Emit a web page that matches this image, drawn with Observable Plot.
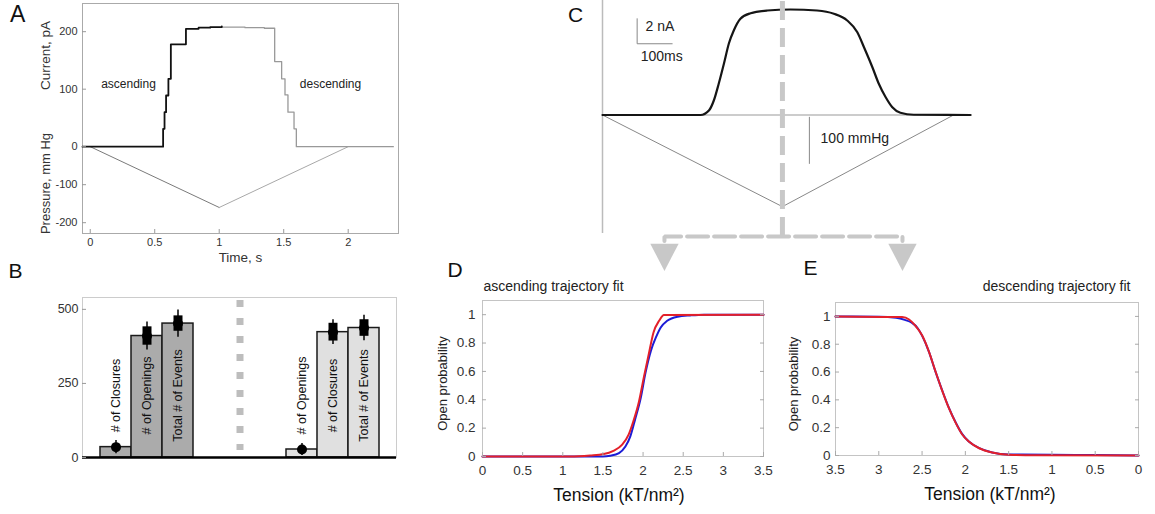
<!DOCTYPE html>
<html>
<head>
<meta charset="utf-8">
<script src="https://cdn.jsdelivr.net/npm/d3@7"></script>
<script src="https://cdn.jsdelivr.net/npm/@observablehq/plot@0.6"></script>
<style>
  html, body { margin: 0; padding: 0; background: #fff; }
  #fig { position: relative; width: 1155px; height: 514px; overflow: hidden;
         font-family: "Liberation Sans", Arial, Helvetica, sans-serif; color: #222; }
  #fig svg { position: absolute; overflow: visible; }
  .letter { position: absolute; line-height: 1; color: #111; }
</style>
</head>
<body>
<div id="fig"></div>
<script>
const FONT = '"Liberation Sans", Arial, Helvetica, sans-serif';

// ---------- A: macroscopic current steps during a triangular pressure ramp ----------
const ascTime     = [-0.06, 0.565, 0.576, 0.588, 0.606, 0.625, 0.742, 0.84, 0.93, 1.02];
const ascCurrent  = [0, 31, 60, 89, 118, 178, 205, 207, 208, 209];
const descTime    = [1.02, 1.2, 1.35, 1.43, 1.484, 1.51, 1.533, 1.58, 1.598, 2.35];
const descCurrent = [208, 207, 206, 148, 118, 90, 60, 31, 0, 0];
const rampTime     = [0, 1, 2];
const rampPressure = [0, -160, 0];          // mm Hg
const timeTicks     = [0, 0.5, 1, 1.5, 2];
const currentTicks  = [0, 100, 200];
const pressureTicks = [-100, -200];

// ---------- B: event counts on each branch of the ramp ----------
const ascEvents  = ["# of Closures", "# of Openings", "Total # of Events"];
const ascCounts  = [35, 410, 452];
const ascSD      = [22, 47, 46];
const ascSE      = [0, 31, 26];
const descEvents = ["# of Openings", "# of Closures", "Total # of Events"];
const descCounts = [27, 423, 437];
const descSD     = [20, 42, 43];
const descSE     = [0, 30, 28];
const countTicks = [0, 250, 500];

// ---------- C: simulated population current and pressure ramp ----------
const traceMs = [0, 280, 304, 318, 332, 347, 361, 375, 394, 423, 471, 537, 613, 661, 699, 728, 747, 771, 789, 809, 828, 851, 889, 1051];
const traceNa = [0, 0, 0.36, 1.16, 2.5, 4.12, 5.72, 6.76, 7.7, 8.14, 8.36, 8.44, 8.36, 8.1, 7.56, 6.62, 5.42, 3.82, 2.52, 1.42, 0.62, 0.18, 0.02, 0];
const pressMs    = [0, 514, 1003];
const pressMmHg  = [0, -195, 0];
const scaleBarMs = 100, scaleBarNa = 2, scaleBarMmHg = 100;

// ---------- D, E: open probability vs membrane tension ----------
const ascTensionData = [0, 1.5, 1.59, 1.70, 1.78, 1.84, 1.90, 1.97, 2.03, 2.10, 2.16, 2.22, 2.30, 2.43, 2.59, 2.76, 3.5];
const ascPoData      = [0, 0, 0.005, 0.024, 0.07, 0.14, 0.26, 0.41, 0.59, 0.75, 0.84, 0.91, 0.957, 0.986, 0.995, 1.0, 1.0];
const ascTensionFit  = [0, 1.09, 1.34, 1.51, 1.63, 1.74, 1.82, 1.88, 1.95, 2.01, 2.07, 2.13, 2.20, 2.26, 3.5];
const ascPoFit       = [0, 0, 0.007, 0.017, 0.04, 0.083, 0.154, 0.25, 0.39, 0.56, 0.72, 0.875, 0.957, 0.998, 1.0];
const descTensionData = [3.5, 3.0, 2.8, 2.7, 2.62, 2.55, 2.50, 2.42, 2.35, 2.27, 2.19, 2.11, 2.04, 1.96, 1.84, 1.69, 1.50, 1.0, 0.5, 0];
const descPoData      = [1, 0.998, 0.99, 0.975, 0.955, 0.915, 0.862, 0.745, 0.612, 0.472, 0.342, 0.235, 0.157, 0.10, 0.053, 0.022, 0.008, 0.006, 0.003, 0];
const descTensionFit  = [3.5, 2.73, 2.65, 2.58, 2.50, 2.42, 2.35, 2.27, 2.19, 2.11, 2.04, 1.96, 1.84, 1.69, 1.50, 1.19, 0];
const descPoFit       = [1, 0.995, 0.978, 0.935, 0.864, 0.745, 0.614, 0.47, 0.34, 0.233, 0.155, 0.10, 0.052, 0.021, 0.005, 0.001, 0];
const tensionTicks = [0, 0.5, 1, 1.5, 2, 2.5, 3, 3.5];
const probTicks    = [0, 0.2, 0.4, 0.6, 0.8, 1];

const fig = document.getElementById("fig");
function place(node, left, top) {
  node.style.left = left + "px";
  node.style.top = top + "px";
  fig.appendChild(node);
}
function letter(txt, left, top, size) {
  const el = document.createElement("div");
  el.className = "letter";
  el.textContent = txt;
  el.style.fontSize = size + "px";
  el.style.left = left + "px";
  el.style.top = top + "px";
  fig.appendChild(el);
}
const baseStyle = (size) => ({fontFamily: FONT, fontSize: size + "px", color: "#333", background: "transparent", overflow: "visible"});
const zip = (xs, ys) => xs.map((x, i) => ({x, y: ys[i]}));
const centered = {textAnchor: "middle", lineAnchor: "middle"};

// ===== Panel A =====
// Current (pA) and pressure (mm Hg) share one vertical axis; pressure is rescaled onto it.
const kPressure = 0.661;
const ascTrace  = zip(ascTime, ascCurrent);
const descTrace = zip(descTime, descCurrent);
const ramp = zip(rampTime, rampPressure.map(p => p * kPressure));

const plotA = Plot.plot({
  width: 410, height: 268,
  marginLeft: 82, marginRight: 12, marginTop: 3, marginBottom: 35,
  x: {domain: [-0.06, 2.39]},
  y: {domain: [-151, 249]},
  style: baseStyle(11),
  marks: [
    Plot.frame({stroke: "#aaa"}),
    Plot.line(ramp.slice(0, 2), {x: "x", y: "y", stroke: "#7a7a7a", strokeWidth: 1}),
    Plot.line(ramp.slice(1), {x: "x", y: "y", stroke: "#a8a8a8", strokeWidth: 1}),
    Plot.line(descTrace, {x: "x", y: "y", curve: "step-after", stroke: "#999", strokeWidth: 1.3}),
    Plot.line(ascTrace, {x: "x", y: "y", curve: "step-after", stroke: "#111", strokeWidth: 1.8}),
    Plot.axisX(timeTicks, {tickSize: -4, tickPadding: 9, stroke: "#999", fill: "#333", label: null, tickFormat: d => String(d)}),
    Plot.axisY(currentTicks, {tickSize: -4, tickPadding: 9, stroke: "#999", fill: "#333", label: null, tickFormat: d => String(d)}),
    Plot.axisY(pressureTicks.map(p => p * kPressure), {tickSize: -4, tickPadding: 9, stroke: "#999", fill: "#333", label: null,
      tickFormat: d => String(Math.round(d / kPressure))}),
    Plot.text(["Current, pA"], {frameAnchor: "top-left", ...centered, dx: -37, dy: 52, rotate: -90, fontSize: 13.5, fill: "#333"}),
    Plot.text(["Pressure, mm Hg"], {frameAnchor: "top-left", ...centered, dx: -37, dy: 180, rotate: -90, fontSize: 13, fill: "#333"}),
    Plot.text(["Time, s"], {frameAnchor: "bottom", ...centered, dy: 24, fontSize: 13.5, fill: "#333"}),
    Plot.text(["ascending"], {frameAnchor: "top-left", ...centered, dx: 46, dy: 81, fontSize: 12, fill: "#222"}),
    Plot.text(["descending"], {frameAnchor: "top-left", ...centered, dx: 248, dy: 81, fontSize: 12, fill: "#222"})
  ]
});
place(plotA, 0, 0);

// ===== Panel B =====
const ascRows  = ascEvents.map((label, i) => ({key: "asc-" + i, label, count: ascCounts[i], sd: ascSD[i], se: ascSE[i], fill: "#ababab"}));
const descRows = descEvents.map((label, i) => ({key: "desc-" + i, label, count: descCounts[i], sd: descSD[i], se: descSE[i], fill: "#e0e0e0"}));
const spacers  = ["gap-1", "gap-2", "gap-3"];
const barRows  = [...ascRows, ...descRows];
const slotKeys = [...ascRows.map(d => d.key), ...spacers, ...descRows.map(d => d.key)];

const plotB = Plot.plot({
  width: 410, height: 254,
  marginLeft: 82, marginRight: 14, marginTop: 37, marginBottom: 57,
  x: {type: "band", domain: slotKeys, paddingInner: 0, paddingOuter: 0.5, axis: null},
  y: {domain: [0, 540]},
  color: {type: "identity"},
  style: baseStyle(12.5),
  marks: [
    Plot.frame({stroke: "#ccc"}),
    Plot.ruleX([spacers[1]], {x: d => d, stroke: "#bdbdbd", strokeWidth: 7, strokeDasharray: "7,11", insetTop: 3, insetBottom: 7}),
    Plot.barY(barRows, {x: "key", y: "count", fill: "fill", stroke: "#1a1a1a", strokeWidth: 1.5}),
    Plot.ruleX(barRows, {x: "key", y1: d => d.count - d.sd, y2: d => d.count + d.sd, stroke: "#000", strokeWidth: 1.5}),
    Plot.ruleX(barRows, {x: "key", y1: d => d.count - d.se, y2: d => d.count + d.se, stroke: "#000", strokeWidth: 9}),
    Plot.dot(barRows, {x: "key", y: "count", r: 5, fill: "#000"}),
    Plot.text(barRows, {x: "key", text: "label", frameAnchor: "bottom", ...centered, rotate: -90, dy: -62, fontSize: 12.5, fill: "#111"}),
    Plot.ruleY([0], {stroke: "#000", strokeWidth: 2.5}),
    Plot.axisY(countTicks, {tickSize: -4, tickPadding: 8, stroke: "#999", fill: "#333", label: null, tickFormat: d => String(d)})
  ]
});
place(plotB, 0, 260);

// ===== Panel C =====
// Pressure (mm Hg) is drawn on the current axis (nA) with a fixed conversion.
const kC = 0.0376;
const trace = zip(traceMs, traceNa);
const press = zip(pressMs, pressMmHg.map(p => p * kC));
const peakMs = pressMs[pressMmHg.indexOf(d3.min(pressMmHg))];
const barAt = {ms: 99, na: 5.7};             // corner of the current/time scale bar
const pressBarAt = {ms: 591, mmHg: -5};       // top of the pressure scale bar
const connector = {y: -9.72, left: 177, right: 857, drop: 0.35, arrowY: -11.05};
const triangleDown = {
  draw(ctx, size) {
    const a = Math.sqrt(size / Math.PI);
    ctx.moveTo(-1.35 * a, -0.9 * a);
    ctx.lineTo(1.35 * a, -0.9 * a);
    ctx.lineTo(0, 1.7 * a);
    ctx.closePath();
  }
};

const plotC = Plot.plot({
  width: 385, height: 275,
  marginLeft: 12, marginRight: 3, marginTop: 0, marginBottom: 0,
  x: {domain: [0, 1057], axis: null},
  y: {domain: [-12.84, 9.16], axis: null},
  style: baseStyle(14),
  marks: [
    Plot.ruleX([0], {stroke: "#bbb", strokeWidth: 1.5, insetBottom: 42}),
    Plot.ruleY([0], {stroke: "#999", strokeWidth: 1}),
    Plot.line(press, {x: "x", y: "y", stroke: "#888", strokeWidth: 1}),
    Plot.line(trace, {x: "x", y: "y", curve: "monotone-x", stroke: "#151515", strokeWidth: 2.2}),
    // scale bars
    Plot.line([[barAt.ms, barAt.na + scaleBarNa], [barAt.ms, barAt.na], [barAt.ms + scaleBarMs, barAt.na]],
      {x: d => d[0], y: d => d[1], stroke: "#888", strokeWidth: 1}),
    Plot.ruleX([pressBarAt.ms], {y1: pressBarAt.mmHg * kC, y2: (pressBarAt.mmHg - scaleBarMmHg) * kC, stroke: "#888", strokeWidth: 1}),
    Plot.text([`${scaleBarNa} nA`], {x: barAt.ms + 24, y: barAt.na + 1.38, textAnchor: "start", fill: "#222"}),
    Plot.text([`${scaleBarMs}ms`], {x: barAt.ms + 10, y: barAt.na - 1.02, textAnchor: "start", fill: "#222"}),
    Plot.text([`${scaleBarMmHg} mmHg`], {x: pressBarAt.ms + 32, y: -1.88, textAnchor: "start", fill: "#222"}),
    // dashed guide from the pressure peak to panels D and E
    Plot.ruleX([peakMs], {y1: connector.y, y2: 9.16, stroke: "#c8c8c8", strokeWidth: 5, strokeDasharray: "19,8"}),
    Plot.line([[connector.left, connector.y - connector.drop], [connector.left, connector.y], [connector.right, connector.y], [connector.right, connector.y - connector.drop]],
      {x: d => d[0], y: d => d[1], stroke: "#c8c8c8", strokeWidth: 4, strokeDasharray: "21,6", strokeLinejoin: "miter"}),
    Plot.dot([connector.left, connector.right], {x: d => d, y: connector.arrowY, symbol: triangleDown, r: 10.5, fill: "#c8c8c8", stroke: "none"})
  ]
});
place(plotC, 590, 0);

// ===== Panels D and E =====
function tensionPanel({domain, width, margins, data, fit, title, titleRight, labelDx}) {
  const [mt, mr, mb, ml] = margins;
  return Plot.plot({
    width, height: 259,
    marginTop: mt, marginRight: mr, marginBottom: mb, marginLeft: ml,
    x: {domain},
    y: {domain: [0, 1.1]},
    style: baseStyle(13.5),
    marks: [
      Plot.frame({stroke: "#c4c4c4"}),
      Plot.line(data, {x: "x", y: "y", curve: "monotone-x", stroke: "#1c1cd6", strokeWidth: 2}),
      Plot.line(fit, {x: "x", y: "y", curve: "monotone-x", stroke: "#e3202a", strokeWidth: 2}),
      Plot.axisX(tensionTicks, {tickSize: -4, tickPadding: 13, stroke: "#aaa", fill: "#333", label: null, tickFormat: d => String(d)}),
      Plot.axisY(probTicks, {tickSize: -4, tickPadding: titleRight ? 9 : 11, stroke: "#aaa", fill: "#333", label: null, tickFormat: d => String(d)}),
      Plot.axisY(probTicks, {anchor: "right", tickSize: -4, stroke: "#aaa", label: null, tickFormat: () => ""}),
      Plot.text(["Tension (kT/nm²)"], {frameAnchor: "bottom", ...centered, dy: 39, dx: labelDx, fontSize: 17.5, fill: "#111"}),
      Plot.text(["Open probability"], {frameAnchor: "left", ...centered, dx: titleRight ? -42 : -40, dy: 5, rotate: -90, fontSize: 13, fill: "#222"}),
      titleRight
        ? Plot.text([title], {frameAnchor: "top-right", textAnchor: "end", lineAnchor: "middle", dx: -8, dy: -16, fontSize: 14, fill: "#222"})
        : Plot.text([title], {frameAnchor: "top-left", textAnchor: "start", lineAnchor: "middle", dx: 1, dy: -14, fontSize: 14, fill: "#222"})
    ]
  });
}

const plotD = tensionPanel({
  domain: [0, 3.5], width: 350, margins: [45, 7, 58, 62],
  data: zip(ascTensionData, ascPoData), fit: zip(ascTensionFit, ascPoFit),
  title: "ascending trajectory fit", titleRight: false, labelDx: -4
});
place(plotD, 420, 255);

const plotE = tensionPanel({
  domain: [3.5, 0], width: 375, margins: [47, 17, 59, 55],
  data: zip(descTensionData, descPoData), fit: zip(descTensionFit, descPoFit),
  title: "descending trajectory fit", titleRight: true, labelDx: 3
});
place(plotE, 780, 255);

// panel letters
letter("A", 10, 2.5, 23);
letter("B", 8.5, 260, 21);
letter("C", 568, 4, 21);
letter("D", 447.5, 259, 21);
letter("E", 803.5, 257, 21);
</script>
</body>
</html>
